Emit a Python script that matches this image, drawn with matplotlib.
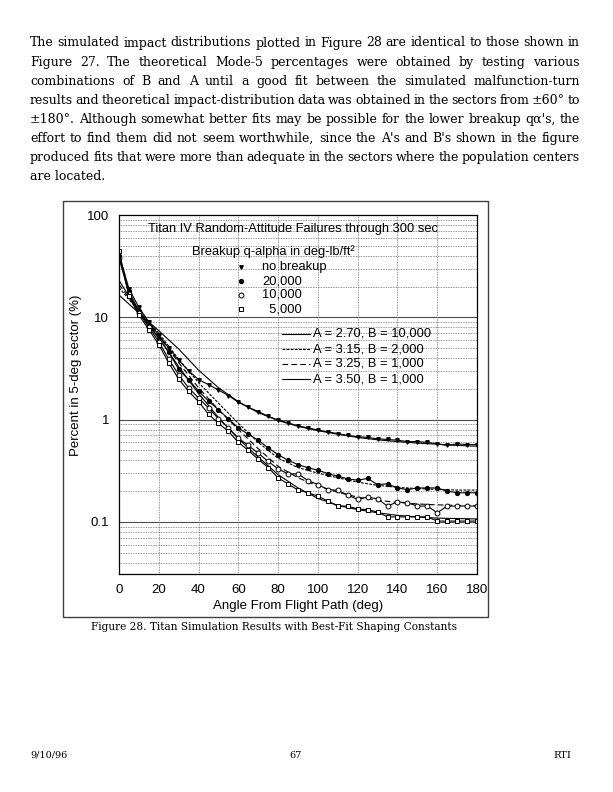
import matplotlib
matplotlib.use("Agg")
import matplotlib.pyplot as plt
from matplotlib.lines import Line2D
from matplotlib.patches import Rectangle
from matplotlib.ticker import FixedLocator, FixedFormatter, NullFormatter

W, H = 613, 792

# simulated impact distributions, percent in each 5-deg sector
angle = [0, 5, 10, 15, 20, 25, 30, 35, 40, 45, 50, 55, 60, 65, 70, 75, 80, 85, 90,
         95, 100, 105, 110, 115, 120, 125, 130, 135, 140, 145, 150, 155, 160, 165,
         170, 175, 180]
no_breakup = [42, 19, 12.5, 9.0, 6.7, 5.0, 3.8, 3.0, 2.46, 2.2, 1.95, 1.72, 1.48,
              1.32, 1.2, 1.08, 0.99, 0.93, 0.87, 0.83, 0.79, 0.76, 0.73, 0.70, 0.68,
              0.67, 0.65, 0.64, 0.63, 0.61, 0.61, 0.60, 0.58, 0.56, 0.58, 0.57, 0.57]
q_20000 = [40, 18, 11.5, 8.3, 6.2, 4.6, 3.1, 2.46, 1.9, 1.52, 1.25, 1.02, 0.83,
           0.72, 0.63, 0.53, 0.455, 0.40, 0.364, 0.338, 0.321, 0.297, 0.28, 0.264,
           0.256, 0.266, 0.232, 0.236, 0.215, 0.207, 0.215, 0.215, 0.215, 0.20,
           0.193, 0.193, 0.193]
q_10000 = [38, 17, 11, 8.0, 5.8, 3.9, 2.75, 2.04, 1.63, 1.3, 1.02, 0.83, 0.66,
           0.56, 0.47, 0.39, 0.33, 0.295, 0.295, 0.254, 0.232, 0.207, 0.204, 0.183,
           0.166, 0.175, 0.168, 0.143, 0.157, 0.154, 0.143, 0.143, 0.123, 0.143,
           0.143, 0.143, 0.143]
q_5000 = [44, 16, 10.5, 7.6, 5.4, 3.6, 2.49, 1.89, 1.5, 1.13, 0.92, 0.77, 0.60,
          0.50, 0.41, 0.34, 0.27, 0.235, 0.205, 0.193, 0.179, 0.16, 0.143, 0.143,
          0.134, 0.132, 0.125, 0.112, 0.112, 0.112, 0.112, 0.112, 0.102, 0.102,
          0.102, 0.102, 0.102]

# best-fit theoretical curves
fit_angle = [0, 5, 10, 15, 20, 30, 40, 50, 60, 70, 80, 90, 100, 110, 120, 130,
             140, 150, 160, 170, 180]
fit_270 = [16.5, 13.5, 11, 9, 7.4, 4.9, 3.05, 2.05, 1.5, 1.17, 0.98, 0.86, 0.78,
           0.72, 0.67, 0.635, 0.61, 0.59, 0.575, 0.56, 0.55]
fit_315 = [19.5, 15, 11.5, 9, 7.0, 3.9, 2.3, 1.45, 0.92, 0.6, 0.42, 0.34, 0.30,
           0.27, 0.245, 0.228, 0.218, 0.212, 0.208, 0.205, 0.205]
fit_325 = [21, 15.5, 11.5, 8.7, 6.6, 3.6, 2.05, 1.25, 0.8, 0.52, 0.35, 0.27, 0.225,
           0.195, 0.175, 0.163, 0.155, 0.15, 0.147, 0.145, 0.145]
fit_350 = [23, 16, 11.5, 8.5, 6.3, 3.3, 1.8, 1.05, 0.65, 0.43, 0.29, 0.215, 0.17,
           0.145, 0.132, 0.123, 0.116, 0.112, 0.109, 0.108, 0.107]

series_labels = ["no breakup", "20,000", "10,000", "  5,000"]
fit_labels = ["A = 2.70, B = 10,000", "A = 3.15, B = 2,000",
              "A = 3.25, B = 1,000", "A = 3.50, B = 1,000"]

paragraph = [
    "The simulated impact distributions plotted in Figure 28 are identical to those shown in",
    "Figure 27.  The theoretical Mode-5 percentages were obtained by testing various",
    "combinations of B and A until a good fit between the simulated malfunction-turn",
    "results and theoretical impact-distribution data was obtained in the sectors from ±60° to",
    "±180°.  Although somewhat better fits may be possible for the lower breakup qα's, the",
    "effort to find them did not seem worthwhile, since the A's and B's shown in the figure",
    "produced fits that were more than adequate in the sectors where the population centers",
    "are located.",
]


def fx(px):
    return px / W


def fy(py):
    return 1 - py / H


fig = plt.figure(figsize=(6.13, 7.92), dpi=100)
renderer = fig.canvas.get_renderer()

# justified paragraph
serif = "DejaVu Serif"
x0, x1 = 30, 580
psize = 9.0
for i, line in enumerate(paragraph):
    y = fy(43 + i * 19.1)
    words = line.split()
    if i == len(paragraph) - 1:
        fig.text(fx(x0), y, line, family=serif, fontsize=psize, va="center")
        continue
    texts = [fig.text(0, y, w, family=serif, fontsize=psize, va="center") for w in words]
    widths = [t.get_window_extent(renderer).width for t in texts]
    gap = (x1 - x0 - sum(widths)) / (len(words) - 1)
    xp = x0
    for t, wd in zip(texts, widths):
        t.set_x(fx(xp))
        xp += wd + gap

# figure frame
fig.add_artist(Rectangle((fx(63), fy(617)), (488 - 63) / W, (617 - 201) / H,
                         transform=fig.transFigure, fill=False, lw=1.0, ec="0.25"))

ax = fig.add_axes([fx(119), fy(574), (477 - 119) / W, (574 - 215) / H])
ax.set_yscale("log")
ax.set_xlim(0, 180)
ax.set_ylim(0.031, 100)

ax.yaxis.set_major_locator(FixedLocator([0.1, 1, 10, 100]))
ax.yaxis.set_major_formatter(FixedFormatter(["0.1", "1", "10", "100"]))
minors = [m * 10.0 ** e for e in (-2, -1, 0, 1) for m in range(2, 10)]
ax.yaxis.set_minor_locator(FixedLocator(minors))
ax.yaxis.set_minor_formatter(NullFormatter())
ax.set_xticks(range(0, 181, 20))
ax.tick_params(which="both", length=0, labelsize=9.5, pad=7)
for lab in ax.get_xticklabels() + ax.get_yticklabels():
    lab.set_family("Liberation Sans")

ax.grid(which="minor", axis="y", ls=(0, (1, 1)), color="0.45", lw=0.6)
ax.grid(which="major", axis="x", ls=(0, (1, 1)), color="0.45", lw=0.6)
for v in (0.1, 1, 10):
    ax.axhline(v, color="0.3", lw=0.8, zorder=1)
for s in ax.spines.values():
    s.set_linewidth(0.9)

lw = 0.8
ax.plot(fit_angle, fit_270, color="k", lw=lw)
ax.plot(fit_angle, fit_315, color="k", lw=lw, ls=(0, (2.5, 1.2)))
ax.plot(fit_angle, fit_325, color="k", lw=lw, ls=(0, (5, 3)))
ax.plot(fit_angle, fit_350, color="k", lw=lw)

ax.plot(angle, no_breakup, color="k", lw=lw, marker="v", ms=2.5)
ax.plot(angle, q_20000, color="k", lw=lw, marker="o", ms=2.8)
ax.plot(angle, q_10000, color="k", lw=lw, marker="o", ms=3.5, mfc="white", mew=0.7)
ax.plot(angle, q_5000, color="k", lw=lw, marker="s", ms=3.3, mfc="white", mew=0.7)

ax.set_xlabel("Angle From Flight Path (deg)", family="Liberation Sans",
              fontsize=9.5, labelpad=3)
fig.text(fx(76), fy(375), "Percent in 5-deg sector (%)", family="Liberation Sans",
         fontsize=9.5, rotation=90, ha="center", va="center")

# in-plot legend
sans = "Liberation Sans"
fig.text(fx(293), fy(229), "Titan IV Random-Attitude Failures through 300 sec",
         family=sans, fontsize=9.3, ha="center", va="center")
fig.text(fx(273), fy(252), "Breakup q-alpha in deg-lb/ft²", family=sans,
         fontsize=9.3, ha="center", va="center")
mk = [dict(marker="v", ms=2.5, color="k"),
      dict(marker="o", ms=2.8, color="k"),
      dict(marker="o", ms=3.5, color="k", mfc="white", mew=0.7),
      dict(marker="s", ms=3.3, color="k", mfc="white", mew=0.7)]
for i, (lab, m) in enumerate(zip(series_labels, mk)):
    yy = fy(267 + i * 14)
    fig.add_artist(Line2D([fx(241)], [yy], transform=fig.transFigure, ls="none", **m))
    fig.text(fx(262), yy, lab, family=sans, fontsize=9.3, va="center")

styles = ["-", (0, (2.5, 1.2)), (0, (5, 3)), "-"]
for i, (lab, st) in enumerate(zip(fit_labels, styles)):
    yy = fy(334 + i * 15)
    fig.add_artist(Line2D([fx(282), fx(310)], [yy, yy], transform=fig.transFigure,
                          color="k", lw=lw, ls=st))
    fig.text(fx(313), yy, lab, family=sans, fontsize=9.3, va="center")

fig.text(fx(274), fy(627), "Figure 28. Titan Simulation Results with Best-Fit Shaping Constants",
         family=serif, fontsize=7.6, ha="center", va="center")

# page footer
fig.text(fx(30), fy(755), "9/10/96", family=serif, fontsize=7, va="center")
fig.text(fx(296), fy(755), "67", family=serif, fontsize=7, ha="center", va="center")
fig.text(fx(553), fy(755), "RTI", family=serif, fontsize=7, va="center")

fig.savefig("out.png", dpi=100)
